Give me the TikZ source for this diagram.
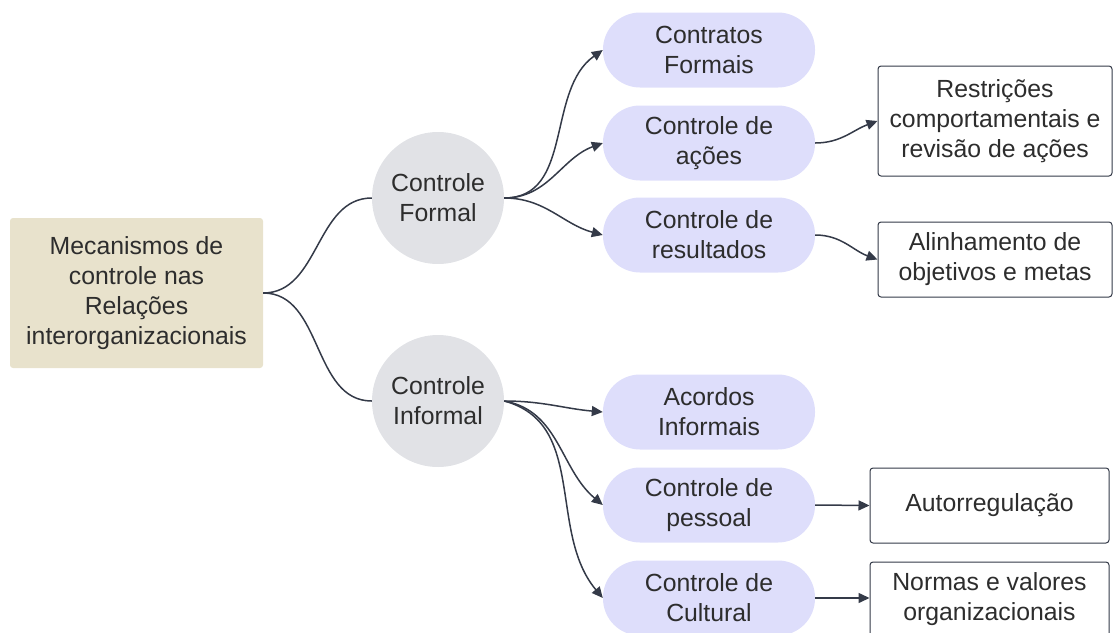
\documentclass[tikz,border=0pt]{standalone}
\usepackage{fontspec}
\setmainfont{Liberation Sans}
\usetikzlibrary{arrows.meta}
\definecolor{rootfill}{RGB}{232,226,204}
\definecolor{hubfill}{RGB}{225,226,230}
\definecolor{pillfill}{RGB}{222,222,251}
\definecolor{linegray}{RGB}{52,58,72}
\definecolor{textgray}{RGB}{45,45,45}
\tikzset{
  root/.style={fill=rootfill,rounded corners=3pt,minimum width=253pt,minimum height=150pt,align=center},
  hub/.style={circle,fill=hubfill,minimum size=132pt,inner sep=0pt,align=center},
  pill/.style={fill=pillfill,rounded corners=37pt,minimum width=212pt,minimum height=75pt,align=center},
  outcome/.style={draw=linegray,line width=1pt,fill=white,rounded corners=3pt,minimum width=234pt,align=center},
  link/.style={linegray,line width=1.5pt},
  arr/.style={link,-{Triangle[length=11pt,width=10pt]}}
}
\begin{document}
\begin{tikzpicture}[x=1pt,y=-1pt,font=\fontsize{24.8}{30}\selectfont,text=textgray]
\useasboundingbox (0,0) rectangle (1114,632);

\node[root] (mec) at (136.5,293) {Mecanismos de\\controle nas\\Relações\\interorganizacionais};

\node[hub] (formal) at (438,198) {Controle\\Formal};
\node[hub] (informal) at (438,401) {Controle\\Informal};

\node[pill] (contratos) at (709,50) {Contratos\\Formais};
\node[pill] (acoes) at (709,143) {Controle de\\ações};
\node[pill] (result) at (709,235) {Controle de\\resultados};
\node[pill] (acordos) at (709,412) {Acordos\\Informais};
\node[pill] (pessoal) at (709,505) {Controle de\\pessoal};
\node[pill] (cultural) at (709,598) {Controle de\\Cultural};

\node[outcome,minimum height=110pt] (restr) at (995,121) {Restrições\\comportamentais e\\revisão de ações};
\node[outcome,minimum height=75pt] (alinh) at (995,259.5) {Alinhamento de\\objetivos e metas};
\node[outcome,minimum width=239pt,minimum height=75pt] (auto) at (989.5,505.5) {Autorregulação};
\node[outcome,minimum width=239pt,minimum height=75pt] (normas) at (989.5,599.5) {Normas e valores\\organizacionais};

% raiz -> tipos de controle
\draw[link] (mec.east) to[out=0,in=180] (formal.west);
\draw[link] (mec.east) to[out=0,in=180] (informal.west);

% controle formal
\draw[arr] (formal.east) to[out=0,in=215] (contratos.west);
\draw[arr] (formal.east) to[out=0,in=200] (acoes.west);
\draw[arr] (formal.east) to[out=0,in=165] (result.west);
\draw[arr] (acoes.east) to[out=0,in=200] (restr.west);
\draw[arr] (result.east) to[out=0,in=160] (alinh.west);

% controle informal
\draw[arr] (informal.east) to[out=0,in=175] (acordos.west);
\draw[arr] (informal.east) to[out=-10,in=140] (pessoal.west);
\draw[arr] (informal.east) to[out=-15,in=130] (cultural.west);
\draw[arr] (pessoal.east) -- (auto.west);
\draw[arr] (cultural.east) -- (normas.west |- cultural.east);
\end{tikzpicture}
\end{document}
